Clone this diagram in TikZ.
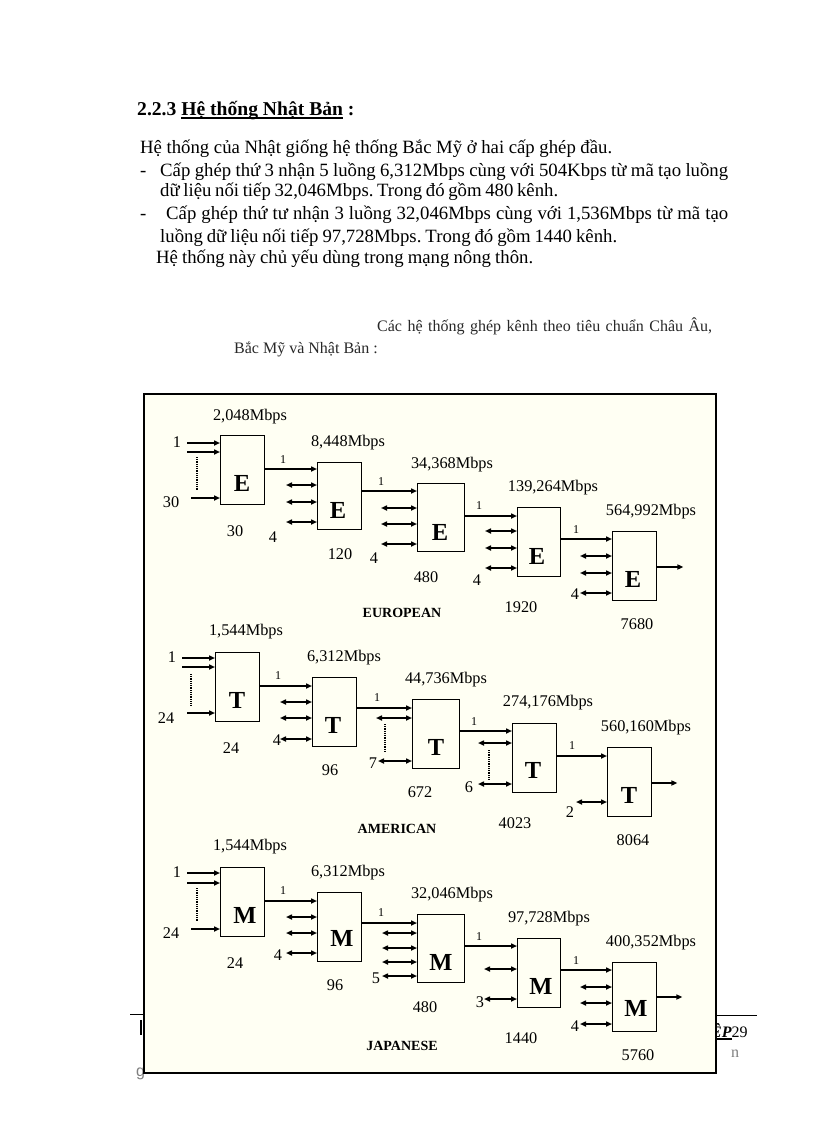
\documentclass[tikz,border=0pt]{standalone}
\usepackage{fontspec}
\setmainfont{Liberation Serif}
\newfontfamily\sansf{Liberation Sans}
\usetikzlibrary{arrows.meta}
\definecolor{paper}{RGB}{255,255,243}
\definecolor{capink}{RGB}{40,40,40}
\frenchspacing
\newcommand\myul[1]{\setbox0\hbox{#1}\rlap{\rule[-2.6pt]{\wd0}{1.2pt}}\box0}
\newcommand\inarr[4]{\draw[#1] ([xshift=-#4pt,yshift=-#3pt]#2.north west) -- ([yshift=-#3pt]#2.north west);}
\newcommand\vdot[4]{\draw[dotline] ([xshift=-#2pt,yshift=-#3pt]#1.north west) -- ([xshift=-#2pt,yshift=-#4pt]#1.north west);}
\newcommand\link[4]{\draw[arr] ([yshift=-#2pt]#1.north east) -- ([yshift=-#4pt]#3.north west);}
\newcommand\lab[5]{\node[#1] (#2) at (#3,#4) {#5};}
\newcommand\spread[2]{\makebox[#1pt][s]{#2}}
\begin{document}
\begin{tikzpicture}[x=1pt,y=-1pt,
 box/.style 2 args={draw, line width=1.4pt, anchor=north west, inner sep=0pt, minimum width=#1pt, minimum height=#2pt},
 arr/.style={line width=1.5pt, -{Triangle[length=6pt,width=5pt]}},
 darr/.style={line width=1.5pt, {Triangle[length=6pt,width=5pt]}-{Triangle[length=6pt,width=5pt]}},
 dotline/.style={line width=1.3pt, dash pattern=on 1pt off 0.8pt},
 rate/.style={inner sep=0pt, font=\fontsize{16.3}{18}\selectfont},
 num/.style={inner sep=0pt, font=\fontsize{16.3}{18}\selectfont},
 one/.style={inner sep=0pt, font=\fontsize{12}{14}\selectfont},
 letter/.style={inner sep=0pt, font=\bfseries\fontsize{24.5}{26}\selectfont},
 sysname/.style={inner sep=0pt, font=\bfseries\fontsize{14}{16}\selectfont},
 txt/.style={inner sep=0pt, anchor=base west, font=\fontsize{18.75}{20}\selectfont},
 captxt/.style={inner sep=0pt, anchor=base west, text=capink, font=\fontsize{16}{18}\selectfont},
 frm/.style={draw, line width=2.2pt, fill=paper},
]
\useasboundingbox (0,0) rectangle (816,1123);
\fill[white] (0,0) rectangle (816,1123);
% ---------- text ----------
\node[txt, font=\bfseries\fontsize{19.6}{22}\selectfont] (head) at (137,116) {2.2.3 \myul{Hệ thống Nhật Bản}\ :};
\node[txt] (l1) at (140,154) {\spread{472}{Hệ thống của Nhật giống hệ thống Bắc Mỹ ở hai cấp ghép đầu.}};
\node[txt] (d2) at (140,177) {-};
\node[txt] (l2) at (160,177) {\spread{568}{Cấp ghép thứ 3 nhận 5 luồng 6,312Mbps cùng với 504Kbps từ mã tạo luồng}};
\node[txt] (l3) at (160,197) {\spread{398}{dữ liệu nối tiếp 32,046Mbps. Trong đó gồm 480 kênh.}};
\node[txt] (d4) at (140,220) {-};
\node[txt] (l4) at (166,220) {\spread{562}{Cấp ghép thứ tư nhận 3 luồng 32,046Mbps cùng với 1,536Mbps từ mã tạo}};
\node[txt] (l5) at (160,242) {\spread{457}{luồng dữ liệu nối tiếp 97,728Mbps. Trong đó gồm 1440 kênh.}};
\node[txt] (l6) at (156,263) {\spread{377}{Hệ thống này chủ yếu dùng trong mạng nông thôn.}};
\node[captxt] (c1) at (377,331) {\spread{335}{Các hệ thống ghép kênh theo tiêu chuẩn Châu Âu,}};
\node[captxt] (c2) at (234,353) {Bắc Mỹ và Nhật Bản :};
% ---------- footer fragments ----------
\draw[line width=1pt] (130,1014) -- (146,1014);
\draw[line width=1pt] (714,1015) -- (757,1015);
\draw[line width=2pt] (141,1020) -- (141,1035);
\node[txt, font=\fontsize{16}{18}\selectfont] (pg) at (711,1037) {\textbf{\textit{\myul{ÊP}}}29};
\node[txt, text=gray, font=\fontsize{16}{18}\selectfont] (fn) at (731,1057) {n};
\node[txt, text=gray, font=\sansf\fontsize{16}{18}\selectfont] (fg) at (136,1076) {g};
% ---------- frame ----------
\draw[frm] (144,394) rectangle (716,1073);
% ================= EUROPEAN =================
\node[box={44}{69}] (E1) at (220,435) {};
\node[box={44}{67}] (E2) at (317,462) {};
\node[box={47}{68}] (E3) at (417,483) {};
\node[box={43}{69}] (E4) at (517,507) {};
\node[box={44}{69}] (E5) at (612,531) {};
\lab{letter}{E1l}{242}{483}{E}
\lab{letter}{E2l}{338}{510}{E}
\lab{letter}{E3l}{440}{532}{E}
\lab{letter}{E4l}{537}{556}{E}
\lab{letter}{E5l}{633}{579}{E}
\inarr{arr}{E1}{8}{33}
\inarr{arr}{E1}{17}{33}
\inarr{arr}{E1}{63}{29}
\vdot{E1}{23}{22}{55}
\inarr{darr}{E2}{23}{31}
\inarr{darr}{E2}{40}{31}
\inarr{darr}{E2}{60}{31}
\inarr{darr}{E3}{25}{36}
\inarr{darr}{E3}{41}{36}
\inarr{darr}{E3}{61}{36}
\inarr{darr}{E4}{24}{32}
\inarr{darr}{E4}{41}{32}
\inarr{darr}{E4}{61}{32}
\inarr{darr}{E5}{25}{32}
\inarr{darr}{E5}{42}{32}
\inarr{darr}{E5}{62}{32}
\link{E1}{34}{E2}{7}
\link{E2}{29}{E3}{8}
\link{E3}{33}{E4}{9}
\link{E4}{32}{E5}{8}
\draw[arr] ([yshift=-36pt]E5.north east) -- ++(26,0);
\lab{rate}{Er1}{250}{417}{2,048Mbps}
\lab{rate}{Er2}{348}{443}{8,448Mbps}
\lab{rate}{Er3}{452}{465}{34,368Mbps}
\lab{rate}{Er4}{553}{488}{139,264Mbps}
\lab{rate}{Er5}{651}{512}{564,992Mbps}
\lab{num}{En1}{235}{531}{30}
\lab{num}{En2}{340}{554}{120}
\lab{num}{En3}{426}{577}{480}
\lab{num}{En4}{521}{607}{1920}
\lab{num}{En5}{637}{624}{7680}
\lab{num}{Es1}{177}{442}{1}
\lab{num}{Es2}{171}{502}{30}
\lab{num}{Es3}{273}{537}{4}
\lab{num}{Es4}{374}{558}{4}
\lab{num}{Es5}{477}{580}{4}
\lab{num}{Es6}{575}{594}{4}
\lab{one}{Eo1}{283}{460}{1}
\lab{one}{Eo2}{381}{482}{1}
\lab{one}{Eo3}{479}{506}{1}
\lab{one}{Eo4}{576}{530}{1}
\lab{sysname}{Ename}{402}{613}{EUROPEAN}
% ================= AMERICAN =================
\node[box={44}{69}] (T1) at (215,652) {};
\node[box={44}{69}] (T2) at (312,677) {};
\node[box={47}{69}] (T3) at (412,699) {};
\node[box={44}{69}] (T4) at (512,723) {};
\node[box={44}{69}] (T5) at (607,747) {};
\lab{letter}{T1l}{237}{700}{T}
\lab{letter}{T2l}{333}{725}{T}
\lab{letter}{T3l}{436}{747}{T}
\lab{letter}{T4l}{533}{770}{T}
\lab{letter}{T5l}{629}{795}{T}
\inarr{arr}{T1}{6}{33}
\inarr{arr}{T1}{15}{33}
\inarr{arr}{T1}{61}{28}
\vdot{T1}{24}{22}{54}
\inarr{darr}{T2}{25}{32}
\inarr{darr}{T2}{41}{32}
\inarr{darr}{T2}{62}{32}
\inarr{darr}{T3}{19}{36}
\inarr{darr}{T3}{62}{34}
\vdot{T3}{27}{25}{53}
\inarr{darr}{T4}{20}{34}
\inarr{darr}{T4}{61}{34}
\vdot{T4}{23}{27}{57}
\inarr{darr}{T5}{55}{31}
\link{T1}{34}{T2}{9}
\link{T2}{31}{T3}{9}
\link{T3}{32}{T4}{8}
\link{T4}{33}{T5}{9}
\draw[arr] ([yshift=-36pt]T5.north east) -- ++(25,0);
\lab{rate}{Tr1}{246}{632}{1,544Mbps}
\lab{rate}{Tr2}{344}{658}{6,312Mbps}
\lab{rate}{Tr3}{446}{680}{44,736Mbps}
\lab{rate}{Tr4}{548}{703}{274,176Mbps}
\lab{rate}{Tr5}{646}{728}{560,160Mbps}
\lab{num}{Tn1}{231}{748}{24}
\lab{num}{Tn2}{330}{770}{96}
\lab{num}{Tn3}{420}{792}{672}
\lab{num}{Tn4}{515}{823}{4023}
\lab{num}{Tn5}{633}{840}{8064}
\lab{num}{Ts1}{172}{657}{1}
\lab{num}{Ts2}{166}{718}{24}
\lab{num}{Ts3}{277}{740}{4}
\lab{num}{Ts4}{373}{763}{7}
\lab{num}{Ts5}{469}{787}{6}
\lab{num}{Ts6}{570}{812}{2}
\lab{one}{To1}{278}{676}{1}
\lab{one}{To2}{377}{698}{1}
\lab{one}{To3}{474}{722}{1}
\lab{one}{To4}{572}{746}{1}
\lab{sysname}{Tname}{397}{829}{AMERICAN}
% ================= JAPANESE =================
\node[box={44}{69}] (M1) at (220,867) {};
\node[box={44}{69}] (M2) at (317,892) {};
\node[box={47}{68}] (M3) at (417,914) {};
\node[box={43}{69}] (M4) at (517,938) {};
\node[box={44}{69}] (M5) at (612,962) {};
\lab{letter}{M1l}{245}{915}{M}
\lab{letter}{M2l}{342}{938}{M}
\lab{letter}{M3l}{441}{962}{M}
\lab{letter}{M4l}{541}{986}{M}
\lab{letter}{M5l}{636}{1008}{M}
\inarr{arr}{M1}{6}{33}
\inarr{arr}{M1}{16}{33}
\inarr{arr}{M1}{62}{29}
\vdot{M1}{23}{21}{54}
\inarr{darr}{M2}{25}{31}
\inarr{darr}{M2}{41}{31}
\inarr{darr}{M2}{61}{31}
\inarr{darr}{M3}{19}{35}
\inarr{darr}{M3}{34}{35}
\inarr{darr}{M3}{48}{35}
\inarr{darr}{M3}{62}{35}
\inarr{darr}{M4}{31}{33}
\inarr{darr}{M4}{61}{33}
\inarr{darr}{M5}{25}{32}
\inarr{darr}{M5}{41}{32}
\inarr{darr}{M5}{62}{32}
\link{M1}{34}{M2}{9}
\link{M2}{31}{M3}{9}
\link{M3}{32}{M4}{8}
\link{M4}{32}{M5}{8}
\draw[arr] ([yshift=-35pt]M5.north east) -- ++(25,0);
\lab{rate}{Mr1}{250}{847}{1,544Mbps}
\lab{rate}{Mr2}{348}{873}{6,312Mbps}
\lab{rate}{Mr3}{452}{895}{32,046Mbps}
\lab{rate}{Mr4}{549}{919}{97,728Mbps}
\lab{rate}{Mr5}{651}{943}{400,352Mbps}
\lab{num}{Mn1}{235}{963}{24}
\lab{num}{Mn2}{335}{985}{96}
\lab{num}{Mn3}{425}{1007}{480}
\lab{num}{Mn4}{521}{1038}{1440}
\lab{num}{Mn5}{638}{1055}{5760}
\lab{num}{Ms1}{177}{872}{1}
\lab{num}{Ms2}{171}{933}{24}
\lab{num}{Ms3}{278}{955}{4}
\lab{num}{Ms4}{376}{978}{5}
\lab{num}{Ms5}{480}{1002}{3}
\lab{num}{Ms6}{575}{1026}{4}
\lab{one}{Mo1}{283}{891}{1}
\lab{one}{Mo2}{381}{913}{1}
\lab{one}{Mo3}{479}{937}{1}
\lab{one}{Mo4}{576}{961}{1}
\lab{sysname}{Mname}{402}{1046}{JAPANESE}
\end{tikzpicture}
\end{document}
